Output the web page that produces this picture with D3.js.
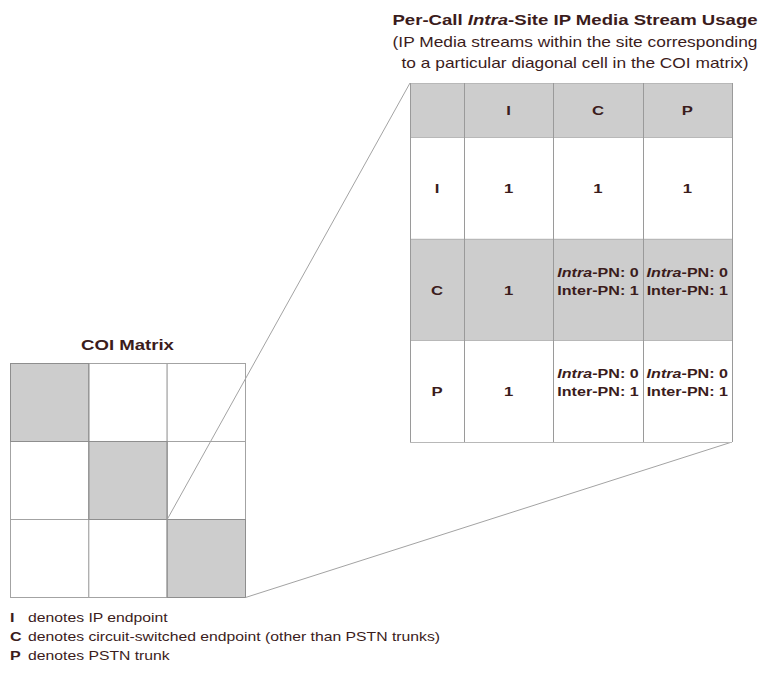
<!DOCTYPE html>
<html><head><meta charset="utf-8">
<script src="https://cdn.jsdelivr.net/npm/d3@7"></script>
<style>body{margin:0;background:#fff}svg{display:block}</style>
</head><body>
<svg id="c" width="776" height="673"></svg>
<script>
// ---- data ----
const categories = ["I", "C", "P"];
const coiShaded = [[1,0,0],[0,1,0],[0,0,1]];
const singleValues = [[1,1,1],[1,null,null],[1,null,null]];
const intraValues  = [[null,null,null],[null,0,0],[null,0,0]];
const interValues  = [[null,null,null],[null,1,1],[null,1,1]];
const legendKeys = ["I", "C", "P"];
const legendTexts = ["denotes IP endpoint",
  "denotes circuit-switched endpoint (other than PSTN trunks)",
  "denotes PSTN trunk"];
const titleParts = [["Per-Call ", "normal"], ["Intra", "italic"], ["-Site IP Media Stream Usage", "normal"]];
const subtitleLines = ["(IP Media streams within the site corresponding",
  "to a particular diagonal cell in the COI matrix)"];
const coiTitle = "COI Matrix";

// ---- layout / style ----
const S = 1.24;             // horizontal text stretch
const TXT = "#3b1c1c";
const GRAY = "#cdcdcd";
const LINE = "#a3a3a3";
const FONT = "'Liberation Sans', Arial, Helvetica, sans-serif";

const svg = d3.select("#c").style("font-family", FONT);

function stext(x, y, anchor, size, weight) {
  return svg.append("text")
    .attr("transform", `translate(${x},${y}) scale(${S},1)`)
    .attr("text-anchor", anchor)
    .attr("fill", TXT)
    .style("font-size", size + "px")
    .style("font-weight", weight);
}

// COI matrix scales
const idx = d3.range(categories.length);
const cx = d3.scaleBand().domain(idx).range([10, 245]);
const cy = d3.scaleBand().domain(idx).range([363, 597]);

// Table scales
const tHeadX = [410, 464], tHeadY = [83, 137];
const tx = d3.scaleBand().domain(categories).range([464, 732]);
const ty = d3.scaleBand().domain(categories).range([137, 442]);

// ---- COI matrix ----
const cells = [];
idx.forEach(r => idx.forEach(c => cells.push({r, c, s: coiShaded[r][c]})));
svg.append("g").selectAll("rect").data(cells).join("rect")
  .attr("x", d => cx(d.c) + 0.5).attr("y", d => cy(d.r) + 0.5)
  .attr("width", cx.bandwidth()).attr("height", cy.bandwidth())
  .attr("fill", d => d.s ? GRAY : "#fff")
  .attr("stroke", LINE).attr("stroke-width", 1);
// darker edges on shaded cells
svg.append("g").selectAll("rect").data(cells.filter(d => d.s)).join("rect")
  .attr("x", d => cx(d.c) + 0.5).attr("y", d => cy(d.r) + 0.5)
  .attr("width", cx.bandwidth()).attr("height", cy.bandwidth())
  .attr("fill", "none").attr("stroke", "#8e8e8e").attr("stroke-width", 1);

stext((cx.range()[0] + cx.range()[1]) / 2, 350, "middle", 15, "bold").text(coiTitle);

// ---- leader lines ----
const last = idx[idx.length - 1];
svg.append("line").attr("x1", cx(last) + 0.5).attr("y1", cy(last) + 0.5)
  .attr("x2", tHeadX[0]).attr("y2", tHeadY[0]).attr("stroke", LINE).attr("stroke-width", 1);
svg.append("line").attr("x1", cx(last) + cx.bandwidth() + 0.5).attr("y1", cy(last) + cy.bandwidth() + 0.5)
  .attr("x2", tx.range()[1]).attr("y2", ty.range()[1]).attr("stroke", LINE).attr("stroke-width", 1);

// ---- table ----
const tg = svg.append("g");
const rowBands = [{y0: tHeadY[0], y1: tHeadY[1], shade: true}]
  .concat(categories.map((k, i) => ({y0: ty(k), y1: ty(k) + ty.bandwidth(), shade: i % 2 === 1})));
tg.selectAll("rect.bg").data(rowBands).join("rect").attr("class", "bg")
  .attr("x", tHeadX[0]).attr("y", d => d.y0)
  .attr("width", tx.range()[1] - tHeadX[0]).attr("height", d => d.y1 - d.y0)
  .attr("fill", d => d.shade ? GRAY : "#fff");
const hLines = [tHeadY[0], tHeadY[1]].concat(categories.map(k => ty(k) + ty.bandwidth()));
tg.selectAll("line.h").data(hLines).join("line").attr("class", "h")
  .attr("x1", tHeadX[0]).attr("x2", tx.range()[1])
  .attr("y1", d => Math.round(d) + 0.5).attr("y2", d => Math.round(d) + 0.5)
  .attr("stroke", "#b8b8b8");
const vLines = [tHeadX[0], tHeadX[1]].concat(categories.map(k => tx(k) + tx.bandwidth()));
tg.selectAll("line.v").data(vLines).join("line").attr("class", "v")
  .attr("y1", tHeadY[0]).attr("y2", ty.range()[1])
  .attr("x1", d => Math.round(d) + 0.5).attr("x2", d => Math.round(d) + 0.5)
  .attr("stroke", "#9a9a9a");

const midHX = (tHeadX[0] + tHeadX[1]) / 2;
const midHY = (tHeadY[0] + tHeadY[1]) / 2;
categories.forEach(k => {
  stext(tx(k) + tx.bandwidth() / 2, midHY + 5, "middle", 13.5, "bold").text(k);
});
categories.forEach((rk, r) => {
  const yc = ty(rk) + ty.bandwidth() / 2;
  stext(midHX, yc + 5, "middle", 13.5, "bold").text(rk);
  categories.forEach((ck, c) => {
    const xc = tx(ck) + tx.bandwidth() / 2;
    if (singleValues[r][c] != null) {
      stext(xc, yc + 5, "middle", 13.5, "bold").text(singleValues[r][c]);
    } else {
      const t1 = stext(xc, yc - 13, "middle", 13, "bold");
      t1.append("tspan").style("font-style", "italic").text("Intra");
      t1.append("tspan").text("-PN: " + intraValues[r][c]);
      stext(xc, yc + 5, "middle", 13, "bold").text("Inter-PN: " + interValues[r][c]);
    }
  });
});

// ---- titles ----
const titleX = 575;
const tt = stext(titleX, 25, "middle", 15, "bold");
titleParts.forEach(p => tt.append("tspan").style("font-style", p[1]).text(p[0]));
subtitleLines.forEach((l, i) => {
  stext(titleX, 47 + i * 21, "middle", 14, "normal").text(l);
});

// ---- legend ----
legendKeys.forEach((k, i) => {
  const y = 622 + i * 19;
  stext(10, y, "start", 13, "bold").text(k);
  stext(28, y, "start", 12.7, "normal").text(legendTexts[i]);
});
</script>
</body></html>
